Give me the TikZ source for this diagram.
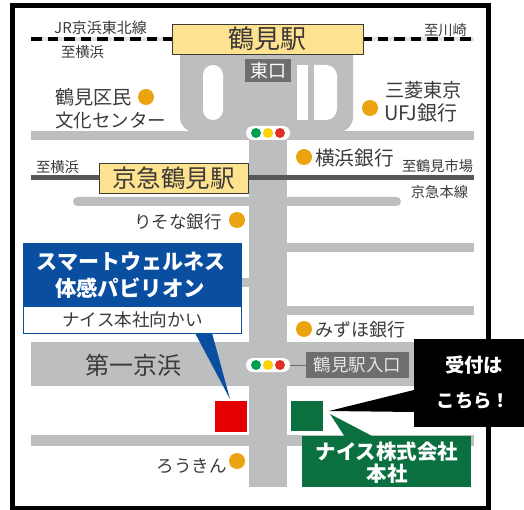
\documentclass[tikz,border=0pt]{standalone}
\usepackage{fontspec}
\setmainfont{Noto Sans CJK JP}
\definecolor{road}{HTML}{BCBEC0}
\definecolor{ink}{HTML}{3E3A39}
\definecolor{rail}{HTML}{595757}
\definecolor{dot}{HTML}{EBA40F}
\definecolor{stn}{HTML}{FDE28F}
\definecolor{blu}{HTML}{0A4EA0}
\definecolor{grn}{HTML}{0B7040}
\definecolor{sign}{HTML}{6D6E70}
\definecolor{lg}{HTML}{00A050}
\definecolor{ly}{HTML}{FFD200}
\definecolor{lr}{HTML}{E03025}
\newcommand{\fz}[1]{\fontsize{#1}{#1}\selectfont}
\tikzset{
  txt/.style={inner sep=0pt,text=ink,anchor=center},
  roadf/.style={fill=road,draw=none},
  hole/.style={fill=white,draw=none},
  poi/.style={circle,fill=dot,draw=none,minimum size=16pt,inner sep=0pt},
  stnbox/.style={fill=stn,draw=ink,line width=.8pt,inner sep=0pt,text=ink},
  signbox/.style={fill=sign,draw=none,inner sep=0pt},
  pill/.style={fill=white,draw=none,rounded corners=7pt},
  lamp/.style={circle,draw=none,minimum size=10pt,inner sep=0pt},
  jr/.style={line width=4pt,draw=black,dash pattern=on 10.5pt off 6pt},
  jrbase/.style={line width=4pt,draw=road!45},
}
\begin{document}
\begin{tikzpicture}[x=1pt,y=-1pt]
\useasboundingbox (0,0) rectangle (524,510);
\fill[white] (0,0) rectangle (524,510);
% frame
\draw[black,line width=5pt] (12.5,5.5) rectangle (488.5,508);
% roads
\fill[roadf] (31,131) rectangle (474,140);
\fill[roadf] (249,140) rectangle (287,487);
\fill[roadf,rounded corners=4.5pt] (73,197) rectangle (401,206);
\fill[roadf] (249,243) rectangle (474,252);
\fill[roadf] (31,278) rectangle (287,287);
\fill[roadf] (249,306) rectangle (474,315);
\fill[roadf] (31,342) rectangle (474,386);
\fill[roadf] (31,435) rectangle (474,446);
% plaza
\fill[roadf] (180,50) [rounded corners=15pt] -- (180,132) -- (353,132) [sharp corners] -- (353,50) -- cycle;
% holes
\fill[hole,rounded corners=10pt] (203,65) rectangle (223,120);
\fill[hole] (297,65) rectangle (308,120);
\fill[hole] (314,65) [rounded corners=11pt] -- (337,65) -- (337,120) [sharp corners] -- (314,120) -- cycle;
% railways
\draw[jrbase] (31,39) -- (474,39);
\draw[jr] (31,39) -- (474,39);
\draw[rail,line width=5pt] (31,178) -- (474,178);
% stations
\node[stnbox,minimum width=191pt,minimum height=30pt,font=\fz{26}] (tsurumi) at (267.5,39) {鶴見駅};
\node[stnbox,minimum width=149pt,minimum height=30pt,font=\fz{24.5}] (keikyu) at (173.5,178) {京急鶴見駅};
\node[signbox,minimum width=46pt,minimum height=23pt,text=white,font=\fz{18}] (east) at (268,70.5) {東口};
% traffic lights
\fill[pill] (246,126) rectangle (290,140);
\node[lamp,fill=lg] (g1) at (256,133) {};
\node[lamp,fill=ly] (y1) at (268,133) {};
\node[lamp,fill=lr] (r1) at (280,133) {};
\fill[pill] (246,358) rectangle (290,372);
\node[lamp,fill=lg] (g2) at (256,365) {};
\node[lamp,fill=ly] (y2) at (268,365) {};
\node[lamp,fill=lr] (r2) at (280,365) {};
\node[signbox,minimum width=103pt,minimum height=26pt,text=road!40,font=\fz{17.5}] (entry) at (357.5,365) {鶴見駅入口};
\coordinate (pillend) at (290,365);
\draw[sign,line width=1pt] (pillend) -- (entry.west);
% labels
\node[txt,font=\fz{15}] (jrl) at (100.5,28) {JR京浜東北線};
\node[txt,font=\fz{14.3}] (toy1) at (82.5,52) {至横浜};
\node[txt,font=\fz{14.3}] (tok) at (445.5,30) {至川崎};
\node[txt,font=\fz{14.3}] (toy2) at (57.5,167) {至横浜};
\node[txt,font=\fz{14.2}] (toi) at (437.5,166) {至鶴見市場};
\node[txt,font=\fz{14.3}] (kh) at (439.5,192) {京急本線};
\node[txt,font=\fz{19.2},anchor=west] (c1) at (55,97) {鶴見区民};
\node[txt,font=\fz{18.5},anchor=west] (c2) at (55,120) {文化センター};
\node[poi] (d1) at (146,97) {};
\node[txt,font=\fz{19.2},anchor=west] (m1) at (385,90) {三菱東京};
\node[txt,font=\fz{20},anchor=west] (m2) at (384,113) {UFJ銀行};
\node[poi] (d2) at (370,108) {};
\node[txt,font=\fz{19.7},anchor=west] (yb) at (315,158) {横浜銀行};
\node[poi] (d3) at (304,157) {};
\node[txt,font=\fz{17.5},anchor=east] (rs) at (222,222) {りそな銀行};
\node[poi] (d4) at (237,220) {};
\node[txt,font=\fz{18},anchor=west] (mz) at (315,330) {みずほ銀行};
\node[poi] (d5) at (304,329) {};
\node[txt,font=\fz{17.5},anchor=east] (rk) at (227,466) {ろうきん};
\node[poi] (d6) at (237,461) {};
\node[txt,font=\fz{24}] (daiichi) at (133,365) {第一京浜};
% blue callout
\fill[blu] (195,333) -- (212,333) -- (230,399) -- cycle;
\fill[blu] (23,243) rectangle (242,307);
\node[draw=blu,fill=white,line width=1.5pt,minimum width=218pt,minimum height=27pt,inner sep=0pt,text=ink,font=\fz{17.6}] (nice) at (132.5,320) {ナイス本社向かい};
\node[txt,text=white,font=\bfseries\fz{21}] (sm) at (131,262) {スマートウェルネス};
\node[txt,text=white,font=\bfseries\fz{21.4}] (tai) at (130,288) {体感パビリオン};
% squares
\node[fill=red!90!black,minimum width=32pt,minimum height=31pt,inner sep=0pt] (redsq) at (231,416.5) {};
\node[fill=grn,minimum width=32pt,minimum height=30pt,inner sep=0pt] (grnsq) at (307,416) {};
% black callout
\fill[black] (329,411) -- (414,390) -- (414,412) -- cycle;
\fill[black] (414,339) rectangle (524,427);
\node[txt,text=white,font=\bfseries\fz{19.3}] (uk) at (474,365) {受付は};
\node[txt,text=white,font=\bfseries\fz{18.3}] (ko) at (473.5,401) {こちら！};
% green label
\fill[grn] (330,414) -- (374,437) -- (345,437) -- cycle;
\fill[grn] (302,436) rectangle (471,487);
\node[txt,text=white,font=\bfseries\fz{20.5}] (ni) at (387,452) {ナイス株式会社};
\node[txt,text=white,font=\bfseries\fz{20.5}] (ho) at (387,474) {本社};
\end{tikzpicture}
\end{document}
